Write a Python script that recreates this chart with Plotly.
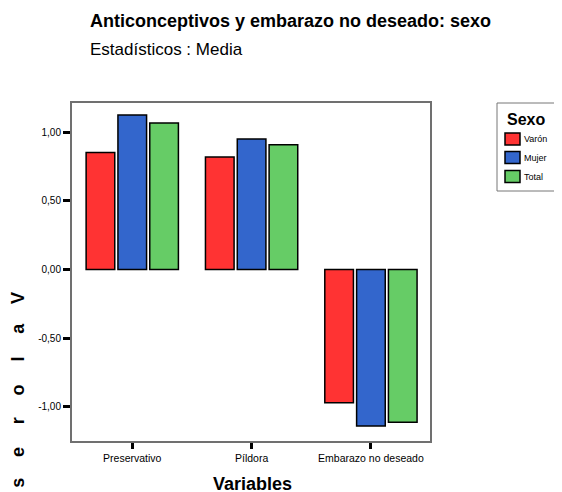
import plotly.graph_objects as go

categories = ["Preservativo", "Píldora", "Embarazo no deseado"]
varon = [0.850, 0.818, -0.969]
mujer = [1.124, 0.949, -1.139]
total = [1.065, 0.908, -1.112]
series_names = ["Varón", "Mujer", "Total"]
colors = ["#ff3333", "#3366cc", "#66cc66"]
y_tick_vals = [-1.0, -0.5, 0.0, 0.5, 1.0]
y_tick_text = ["-1,00", "-0,50", "0,00", "0,50", "1,00"]
legend_title = "Sexo"
title_text = "Anticonceptivos y embarazo no deseado: sexo"
subtitle_text = "Estadísticos : Media"
x_title = "Variables"
y_title = "Valores"

fig = go.Figure()
for name, vals, col in zip(series_names, [varon, mujer, total], colors):
    fig.add_trace(go.Bar(
        x=categories, y=vals, name=name,
        marker=dict(color=col, line=dict(color="black", width=1.5)),
    ))

W, H = 562, 492
# page body has an 8px margin, so shift the drawing up/left by 8px
OFF = 8
PL, PT, PR, PB = 72, 103, 430, 441  # plot box in screen pixels
L, T = PL - OFF, PT - OFF
R, B = W - (PR - OFF), H - (PB - OFF)
pw, ph = PR - PL, PB - PT


def px(x):
    return (x - PL) / pw


def py(y):
    return (PB - y) / ph


font = "Liberation Sans, Arial, sans-serif"

annotations = [
    dict(text="<b>" + title_text + "</b>",
         x=px(88), y=py(21), xref="paper", yref="paper",
         xanchor="left", yanchor="middle", showarrow=False,
         font=dict(size=18)),
    dict(text=subtitle_text,
         x=px(88), y=py(49), xref="paper", yref="paper",
         xanchor="left", yanchor="middle", showarrow=False,
         font=dict(size=17)),
    dict(text="<b>" + x_title + "</b>",
         x=px(252), y=py(484), xref="paper", yref="paper",
         xanchor="center", yanchor="middle", showarrow=False,
         font=dict(size=18)),
]

# y-axis title: letters stacked top-to-bottom, each rotated
letter_top, letter_step = 298, 30.8
for i, ch in enumerate(y_title):
    annotations.append(dict(
        text="<b>" + ch + "</b>", x=px(18), y=py(letter_top + i * letter_step),
        xref="paper", yref="paper", xanchor="center", yanchor="middle",
        showarrow=False, textangle=-90, font=dict(size=18)))

# manual legend
shapes = [dict(type="rect", xref="paper", yref="paper",
               x0=px(497), x1=px(575), y0=py(103), y1=py(191),
               line=dict(color="#777777", width=1), fillcolor="white",
               layer="above")]
annotations.append(dict(
    text="<b>" + legend_title + "</b>", x=px(505), y=py(119),
    xref="paper", yref="paper", xanchor="left", yanchor="middle",
    showarrow=False, font=dict(size=16)))
row_y = [139, 157.5, 176.5]
for name, col, ry in zip(series_names, colors, row_y):
    shapes.append(dict(type="rect", xref="paper", yref="paper",
                       x0=px(505), x1=px(520), y0=py(ry - 6), y1=py(ry + 6),
                       line=dict(color="black", width=1.5), fillcolor=col,
                       layer="above"))
    annotations.append(dict(
        text=name, x=px(522), y=py(ry), xref="paper", yref="paper",
        xanchor="left", yanchor="middle", showarrow=False,
        font=dict(size=9)))

fig.update_layout(
    width=W, height=H,
    margin=dict(l=L, r=R, t=T, b=B, autoexpand=False),
    paper_bgcolor="white", plot_bgcolor="white",
    barmode="group", bargap=0.2, bargroupgap=0.1,
    font=dict(family=font, color="black"),
    showlegend=False,
    xaxis=dict(
        range=[-0.505, 2.495], showgrid=False, zeroline=False,
        showline=True, linecolor="#707070", linewidth=2, mirror=True,
        ticks="outside", ticklen=6, tickwidth=3, tickcolor="black",
        tickfont=dict(size=10.5),
    ),
    yaxis=dict(
        range=[-1.248, 1.211], showgrid=False, zeroline=False,
        showline=True, linecolor="#707070", linewidth=2, mirror=True,
        ticks="outside", ticklen=7, tickwidth=3, tickcolor="black",
        tickvals=y_tick_vals, ticktext=y_tick_text, tickfont=dict(size=10),
    ),
    annotations=annotations,
    shapes=shapes,
)

fig.write_html("out.html")
